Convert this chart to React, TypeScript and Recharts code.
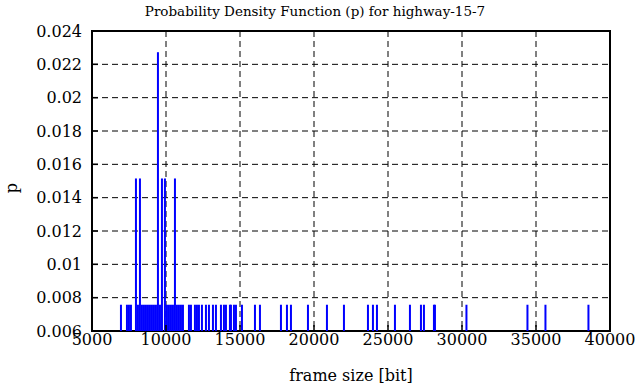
import { ComposedChart, Bar, XAxis, YAxis, CartesianGrid, ReferenceArea } from 'recharts';

const frameSizes = [
    6960, 7365, 7500, 7635, 7973, 8108, 8243, 8378, 8514, 8649, 8784, 8919, 9054, 9189, 9324, 9459,
    9595, 9730, 9932, 10068, 10203, 10338, 10473, 10608, 10743, 10878, 11014, 11149, 11554, 11689,
    11959, 12095, 12230, 12432, 12703, 12905, 13176, 13378, 13716, 13919, 14054, 14324, 14392, 14595,
    14730, 15135, 16014, 16351, 17770, 18176, 18446, 19595, 20878, 22027, 23649, 23986, 24257, 25473,
    26486, 27230, 27432, 28108, 28176, 30304, 34426, 35642, 38547,
];
const frameCounts = [
    1, 1, 1, 1, 2, 1, 2, 1, 1, 1, 1, 1, 1, 1, 1, 3,
    1, 2, 2, 1, 1, 1, 1, 2, 1, 1, 1, 1, 1, 1,
    1, 1, 1, 1, 1, 1, 1, 1, 1, 1, 1, 1, 1, 1,
    1, 1, 1, 1, 1, 1, 1, 1, 1, 1, 1, 1, 1, 1,
    1, 1, 1, 1, 1, 1, 1, 1, 1,
];
const totalFrames = 132;

const xTicks = [5000, 10000, 15000, 20000, 25000, 30000, 35000, 40000];
const yTicks = [0.006, 0.008, 0.01, 0.012, 0.014, 0.016, 0.018, 0.02, 0.022, 0.024];

const data = frameSizes.map((x, i) => ({ x, p: frameCounts[i] / totalFrames }));

const font = '"DejaVu Serif", serif';
const tickStyle = { fontSize: 16, fill: '#000', fontFamily: font };
const fmtY = (v: number) => String(Number(v.toFixed(3)));

// thin impulse centred on the bar slot
const Impulse = (props: any) => {
    const { x, y, width, height } = props;
    if (height == null || height <= 0) return null;
    return <rect x={x + width / 2 - 1} y={y} width={2} height={height} fill="#0000ff" />;
};

export default function App() {
    return (
        <div style={{ position: 'relative', width: 636, height: 387, fontFamily: font, color: '#000' }}>
            <style>{'body{margin:0} .recharts-wrapper text{font-family:"DejaVu Serif",serif}'}</style>
            <div style={{ position: 'absolute', left: 0, top: 3, width: 630, textAlign: 'center', fontSize: 13.5, lineHeight: '16px' }}>
                Probability Density Function (p) for highway-15-7
            </div>
            <div style={{ position: 'absolute', left: 12, top: 188, fontSize: 16, lineHeight: '16px', transform: 'translate(-50%, -50%) rotate(-90deg)' }}>
                p
            </div>
            <ComposedChart width={636} height={387} data={data} margin={{ top: 31, right: 26, bottom: 0, left: 0 }}
                style={{ fontFamily: font }}>
                <CartesianGrid stroke="#000" strokeDasharray="6 4" />
                <XAxis dataKey="x" type="number" domain={[5000, 40000]} ticks={xTicks} height={56}
                    axisLine={false} tickSize={-6} tickMargin={9} tick={tickStyle} tickLine={{ stroke: '#000', strokeWidth: 1.5 }}
                    label={{ value: 'frame size [bit]', position: 'insideBottom', offset: 6, fontSize: 16, fill: '#000', fontFamily: font }} />
                <XAxis xAxisId="top" orientation="top" type="number" domain={[5000, 40000]} ticks={xTicks} height={0}
                    axisLine={false} tickSize={-6} tickFormatter={() => ''} tickLine={{ stroke: '#000', strokeWidth: 1.5 }} />
                <YAxis type="number" domain={[0.006, 0.024]} ticks={yTicks} width={92} interval={0}
                    axisLine={false} tickSize={-6} tickMargin={16} tick={tickStyle} tickFormatter={fmtY}
                    tickLine={{ stroke: '#000', strokeWidth: 1.5 }} />
                <YAxis yAxisId="right" orientation="right" type="number" domain={[0.006, 0.024]} ticks={yTicks} width={0}
                    axisLine={false} tickSize={-6} tickFormatter={() => ''} tickLine={{ stroke: '#000', strokeWidth: 1.5 }} />
                <Bar dataKey="p" fill="#0000ff" barSize={2} shape={Impulse} isAnimationActive={false} />
                <ReferenceArea x1={5000} x2={40000} y1={0.006} y2={0.024} fill="none" stroke="#000" strokeWidth={2} />
            </ComposedChart>
        </div>
    );
}
